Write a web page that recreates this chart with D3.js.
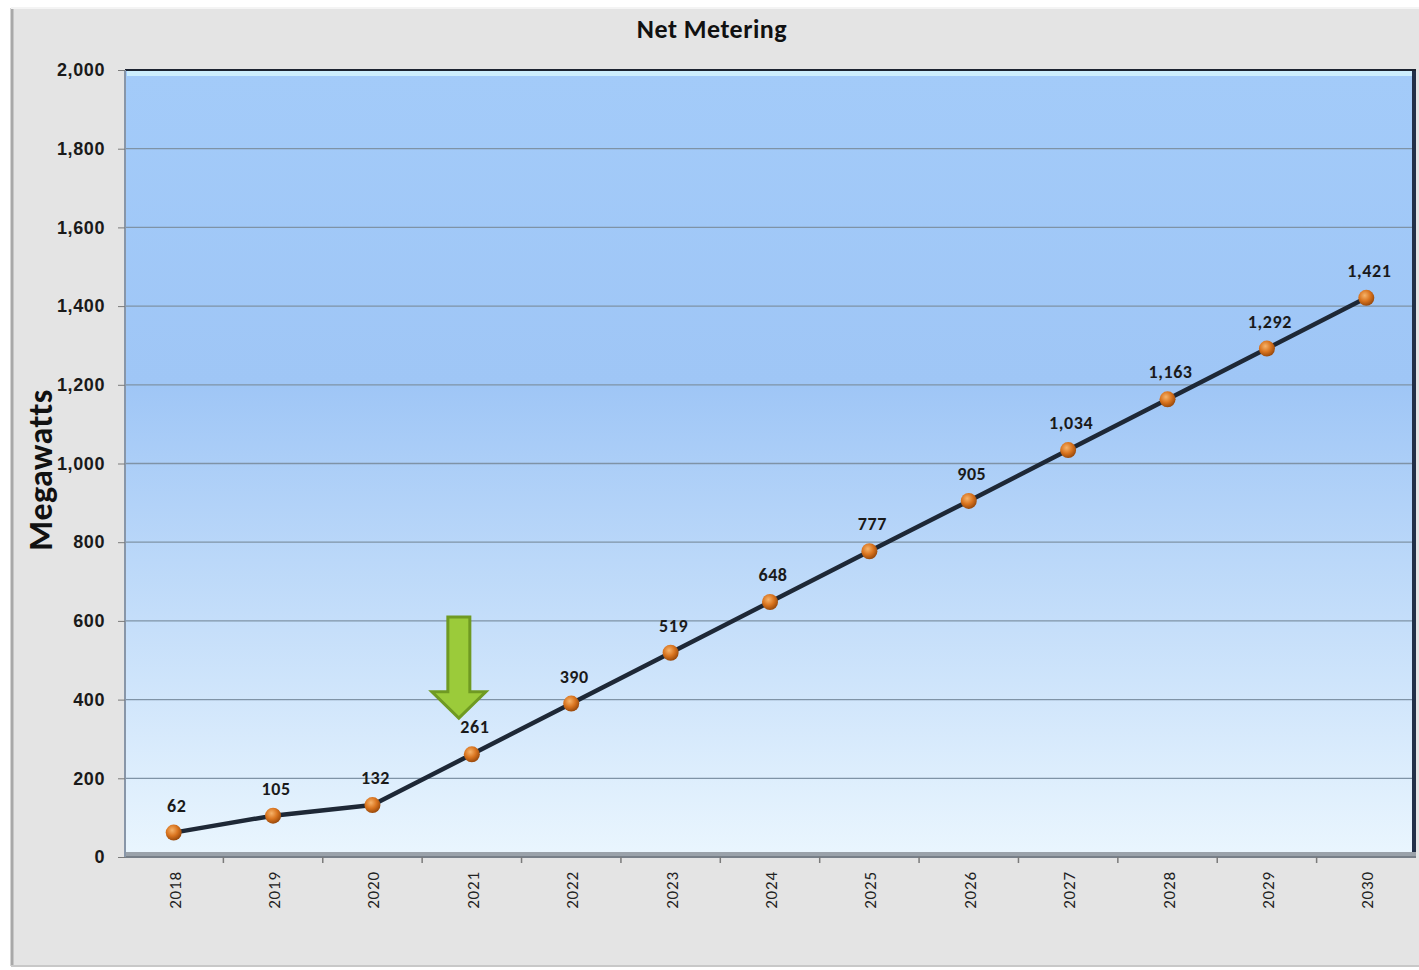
<!DOCTYPE html>
<html>
<head>
<meta charset="utf-8">
<script src="https://cdn.jsdelivr.net/npm/d3@7"></script>
<style>
  body { margin: 0; background: #fff; }
  svg { display: block; font-family: Calibri, Carlito, "Liberation Sans", Arial, sans-serif; }
</style>
</head>
<body>
<svg id="chart" width="1419" height="970"></svg>
<script>
var years = ["2018","2019","2020","2021","2022","2023","2024","2025","2026","2027","2028","2029","2030"];
var megawatts = [62, 105, 132, 261, 390, 519, 648, 777, 905, 1034, 1163, 1292, 1421];
var yTicks = [0, 200, 400, 600, 800, 1000, 1200, 1400, 1600, 1800, 2000];
var arrowYear = "2021";

var W = 1419, H = 970;
var plotLeft = 125, plotRight = 1416, plotTop = 70, plotBottom = 857;

var svg = d3.select("#chart");
var defs = svg.append("defs");

// plot background gradient
var bg = defs.append("linearGradient").attr("id", "bgGrad")
    .attr("x1", 0).attr("y1", 0).attr("x2", 0).attr("y2", 1);
bg.append("stop").attr("offset", "0%").attr("stop-color", "#a3cbf9");
bg.append("stop").attr("offset", "40%").attr("stop-color", "#9fc6f6");
bg.append("stop").attr("offset", "100%").attr("stop-color", "#eaf6fe");

// marker gradient
var mg = defs.append("radialGradient").attr("id", "dotGrad")
    .attr("cx", "40%").attr("cy", "35%").attr("r", "65%");
mg.append("stop").attr("offset", "0%").attr("stop-color", "#f6b36a");
mg.append("stop").attr("offset", "55%").attr("stop-color", "#d9741f");
mg.append("stop").attr("offset", "100%").attr("stop-color", "#9a4a0c");

// outer chart area
svg.append("rect").attr("x", 0).attr("y", 0).attr("width", W).attr("height", H).attr("fill", "#ffffff");
svg.append("rect").attr("x", 11).attr("y", 8).attr("width", W - 11).attr("height", 958)
    .attr("fill", "#e4e4e4");
svg.append("line").attr("x1", 12).attr("x2", 12).attr("y1", 8).attr("y2", 966)
    .attr("stroke", "#a8a8a8").attr("stroke-width", 3);
svg.append("line").attr("x1", 11).attr("x2", W).attr("y1", 8).attr("y2", 8)
    .attr("stroke", "#f4f4f4").attr("stroke-width", 2);
svg.append("line").attr("x1", 11).attr("x2", W).attr("y1", 966).attr("y2", 966)
    .attr("stroke", "#c8c8c8").attr("stroke-width", 2);

var x = d3.scaleBand().domain(years).range([plotLeft - 1, plotRight]);
var y = d3.scaleLinear().domain([0, 2000]).range([plotBottom, plotTop]);

// plot area
svg.append("rect").attr("x", plotLeft).attr("y", plotTop).attr("width", plotRight - plotLeft).attr("height", plotBottom - plotTop)
    .attr("fill", "url(#bgGrad)");
// bevel highlight at top
svg.append("rect").attr("x", plotLeft + 2).attr("y", plotTop + 1).attr("width", plotRight - plotLeft - 6).attr("height", 5)
    .attr("fill", "#cdeefd");
// right dark edge
svg.append("rect").attr("x", plotRight - 4).attr("y", plotTop).attr("width", 4).attr("height", plotBottom - plotTop)
    .attr("fill", "#223048");
svg.append("line").attr("x1", plotLeft).attr("x2", plotRight).attr("y1", plotTop).attr("y2", plotTop)
    .attr("stroke", "#1c2330").attr("stroke-width", 2);

// gridlines
svg.append("g").selectAll("line").data(yTicks.slice(1, -1)).join("line")
    .attr("x1", plotLeft).attr("x2", plotRight - 4)
    .attr("y1", function(d) { return y(d); }).attr("y2", function(d) { return y(d); })
    .attr("stroke", "#7f93a6").attr("stroke-width", 1.3);

// floor
svg.append("rect").attr("x", plotLeft).attr("y", plotBottom - 5).attr("width", plotRight - plotLeft).attr("height", 5)
    .attr("fill", "#9aa2aa");
svg.append("line").attr("x1", plotLeft).attr("x2", plotRight).attr("y1", plotBottom).attr("y2", plotBottom)
    .attr("stroke", "#777f88").attr("stroke-width", 2);
svg.append("line").attr("x1", plotLeft).attr("x2", plotLeft).attr("y1", plotTop).attr("y2", plotBottom)
    .attr("stroke", "#8896a8").attr("stroke-width", 2);

// y axis
var yAxis = svg.append("g").attr("transform", "translate(" + plotLeft + ",0)")
    .call(d3.axisLeft(y).tickValues(yTicks).tickSize(7).tickPadding(13).tickFormat(d3.format(",")));
yAxis.select(".domain").remove();
yAxis.selectAll(".tick line").attr("stroke", "#7a7a7a");
yAxis.selectAll("text").attr("font-size", 18).attr("font-weight", "bold").attr("fill", "#1a1a1a")
    .attr("letter-spacing", 0.6);

// x axis ticks between categories
svg.append("g").selectAll("line").data(years.slice(1)).join("line")
    .attr("x1", function(d) { return x(d); }).attr("x2", function(d) { return x(d); })
    .attr("y1", plotBottom).attr("y2", plotBottom + 6)
    .attr("stroke", "#7a7a7a").attr("stroke-width", 1.5);

svg.append("g").selectAll("text").data(years).join("text")
    .attr("transform", function(d) {
        return "translate(" + (x(d) + x.bandwidth() / 2 + 7) + "," + (plotBottom + 33) + ") rotate(-90)";
    })
    .attr("text-anchor", "middle")
    .attr("font-size", 17).attr("fill", "#222").attr("letter-spacing", 0.8)
    .text(function(d) { return d; });

// line
var line = d3.line()
    .x(function(d, i) { return x(years[i]) + x.bandwidth() / 2; })
    .y(function(d) { return y(d); });
svg.append("path").datum(megawatts).attr("d", line)
    .attr("fill", "none").attr("stroke", "#1e2836").attr("stroke-width", 4.5)
    .attr("stroke-linejoin", "round");

// markers
svg.append("g").selectAll("circle").data(megawatts).join("circle")
    .attr("cx", function(d, i) { return x(years[i]) + x.bandwidth() / 2; })
    .attr("cy", function(d) { return y(d); })
    .attr("r", 8)
    .attr("fill", "url(#dotGrad)");

// data labels
svg.append("g").selectAll("text").data(megawatts).join("text")
    .attr("x", function(d, i) { return x(years[i]) + x.bandwidth() / 2 + 3; })
    .attr("y", function(d) { return y(d) - 21; })
    .attr("text-anchor", "middle")
    .attr("font-size", 18).attr("font-weight", "bold").attr("fill", "#1a1a1a")
    .attr("letter-spacing", 0.6)
    .text(function(d) { return d3.format(",")(d); });

// green arrow annotation
var ax = x(arrowYear) + x.bandwidth() / 2 - 13;
var tipY = y(353), baseY = y(420), arrowTop = y(610);
var arrowPts = [
    [ax - 11, arrowTop], [ax + 11, arrowTop], [ax + 11, baseY], [ax + 27, baseY],
    [ax, tipY], [ax - 27, baseY], [ax - 11, baseY]
];
svg.append("polygon")
    .attr("points", arrowPts.map(function(p) { return p.join(","); }).join(" "))
    .attr("fill", "#9bcb3a").attr("stroke", "#6f9a22").attr("stroke-width", 3)
    .attr("stroke-linejoin", "miter");

// titles
svg.append("text").attr("x", 712).attr("y", 38).attr("text-anchor", "middle")
    .attr("font-size", 26).attr("font-weight", "bold").attr("fill", "#111")
    .attr("letter-spacing", 0.5)
    .text("Net Metering");
svg.append("text").attr("transform", "translate(52,470) rotate(-90)").attr("text-anchor", "middle")
    .attr("font-size", 34).attr("font-weight", "bold").attr("fill", "#111")
    .attr("letter-spacing", 0.5)
    .text("Megawatts");
</script>
</body>
</html>
